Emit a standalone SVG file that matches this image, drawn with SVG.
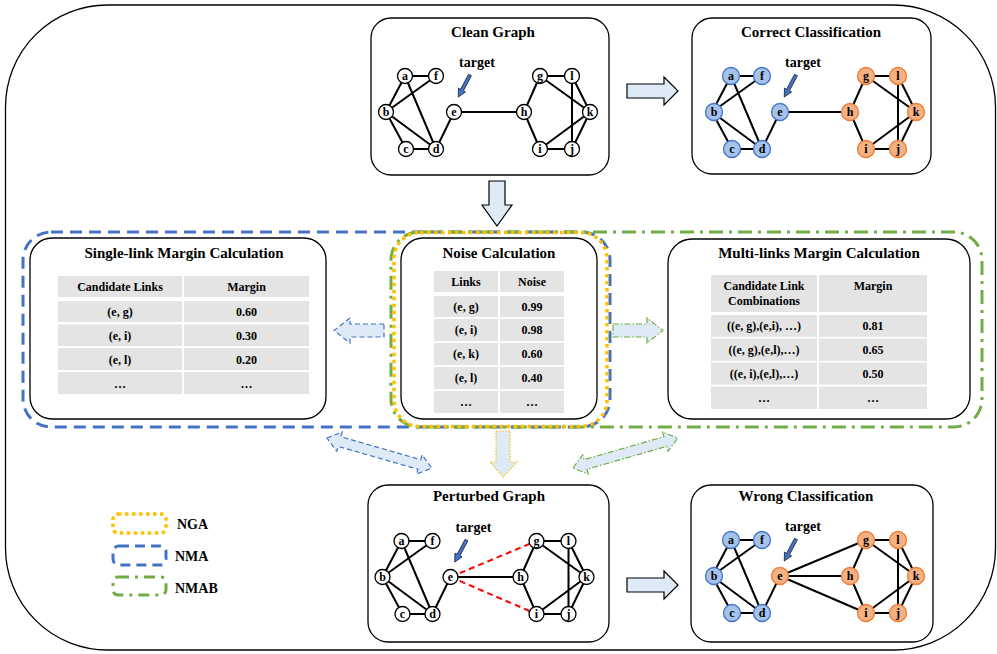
<svg xmlns="http://www.w3.org/2000/svg" xmlns:xlink="http://www.w3.org/1999/xlink" width="997" height="654" viewBox="0 0 997 654">
<style>
.box{fill:#fff;stroke:#000;stroke-width:1.3}
.title{font-family:"Liberation Serif","Times New Roman",serif;font-weight:bold;font-size:15px;text-anchor:middle;fill:#000}
.tt{font-family:"Liberation Serif","Times New Roman",serif;font-weight:bold;font-size:12px;text-anchor:middle;fill:#000}
.lbl{font-family:"Liberation Serif","Times New Roman",serif;font-weight:bold;font-size:12px;text-anchor:middle;fill:#000}
.tgt{font-family:"Liberation Serif","Times New Roman",serif;font-weight:bold;font-size:14px;text-anchor:middle;fill:#000}
.leg{font-family:"Liberation Serif","Times New Roman",serif;font-weight:bold;font-size:14px;fill:#000}
.edge{fill:none;stroke:#000;stroke-width:2}
.red{fill:none;stroke:#FF0000;stroke-width:2;stroke-dasharray:6 4}
.nw{fill:#fff;stroke:#000;stroke-width:1.3}
.nb{fill:#A4C2EA;stroke:#4472C4;stroke-width:1.3}
.no{fill:#F4B183;stroke:#ED7D31;stroke-width:1.3}
.cell{fill:#E4E4E4}
.blk{fill:#DEEBF7;stroke:#000;stroke-width:1.2}
.nma{fill:none;stroke:#4472C4;stroke-width:3;stroke-dasharray:12 7}
.nmab{fill:none;stroke:#70AD47;stroke-width:3;stroke-dasharray:14 6 3 6}
.nga{fill:none;stroke:#FFC000;stroke-width:3.5;stroke-dasharray:3.5 3.5}
.aNma{fill:#DEEBF7;stroke:#4472C4;stroke-width:1.2;stroke-dasharray:5 3}
.aNmab{fill:#DEEBF7;stroke:#70AD47;stroke-width:1.2;stroke-dasharray:6 2 1.5 2}
.aNga{fill:#DEEBF7;stroke:#FFC000;stroke-width:1.2;stroke-dasharray:1.5 1.5}
</style>
<defs>
<path id="gEdges" d="M405,76L436,76M405,76L386,112M405,76L436,149M386,112L436,76M386,112L436,149M386,112L406,149M406,149L436,149M436,149L454,112M454,112L524,112M524,112L540,76M524,112L540,149M540,76L572,76M540,76L590,112M572,76L590,112M572,76L572,149M590,112L572,149M590,112L540,149M540,149L572,149"/>
<polygon id="tArrow" points="-1.6,0 1.6,0 1.6,17 4,17 0,25 -4,17 -1.6,17" fill="#4472C4" stroke="#1F2A44" stroke-width="0.8"/>
</defs>

<rect x="5.5" y="5" width="990" height="645" rx="102" fill="#fff" stroke="#000" stroke-width="1.3"/>

<!-- group boundaries -->
<g id="nma-region"><rect class="nma" x="23" y="232" width="587" height="195" rx="28"/></g>
<g id="nmab-region"><rect class="nmab" x="391" y="232" width="591" height="195" rx="28"/></g>

<!-- Clean Graph -->
<g id="clean-graph">
<rect class="box" x="371" y="18" width="238" height="157" rx="20"/>
<text class="title" x="493" y="37">Clean Graph</text>
<g>
<use href="#gEdges" class="edge"/>
<circle class="nw" cx="405" cy="76" r="7.5"/><text class="lbl" x="405" y="80">a</text>
<circle class="nw" cx="436" cy="76" r="7.5"/><text class="lbl" x="436" y="80">f</text>
<circle class="nw" cx="386" cy="112" r="7.5"/><text class="lbl" x="386" y="116">b</text>
<circle class="nw" cx="454" cy="112" r="7.5"/><text class="lbl" x="454" y="116">e</text>
<circle class="nw" cx="406" cy="149" r="7.5"/><text class="lbl" x="406" y="153">c</text>
<circle class="nw" cx="436" cy="149" r="7.5"/><text class="lbl" x="436" y="153">d</text>
<circle class="nw" cx="524" cy="112" r="7.5"/><text class="lbl" x="524" y="116">h</text>
<circle class="nw" cx="540" cy="76" r="7.5"/><text class="lbl" x="540" y="80">g</text>
<circle class="nw" cx="572" cy="76" r="7.5"/><text class="lbl" x="572" y="80">l</text>
<circle class="nw" cx="590" cy="112" r="7.5"/><text class="lbl" x="590" y="116">k</text>
<circle class="nw" cx="540" cy="149" r="7.5"/><text class="lbl" x="540" y="153">i</text>
<circle class="nw" cx="572" cy="149" r="7.5"/><text class="lbl" x="572" y="153">j</text>
<text class="tgt" x="477" y="67">target</text>
<use href="#tArrow" transform="translate(470,75) rotate(28)"/>
</g>
</g>

<!-- Correct Classification -->
<g id="correct-classification">
<rect class="box" x="692" y="18" width="239" height="156" rx="20"/>
<text class="title" x="811" y="37">Correct Classification</text>
<g transform="translate(326,0)">
<use href="#gEdges" class="edge"/>
<circle class="nb" cx="405" cy="76" r="8.5"/><text class="lbl" x="405" y="80">a</text>
<circle class="nb" cx="436" cy="76" r="8.5"/><text class="lbl" x="436" y="80">f</text>
<circle class="nb" cx="388" cy="112" r="8.5"/><text class="lbl" x="388" y="116">b</text>
<circle class="nb" cx="454" cy="112" r="8.5"/><text class="lbl" x="454" y="116">e</text>
<circle class="nb" cx="406" cy="149" r="8.5"/><text class="lbl" x="406" y="153">c</text>
<circle class="nb" cx="436" cy="149" r="8.5"/><text class="lbl" x="436" y="153">d</text>
<circle class="no" cx="524" cy="112" r="8.5"/><text class="lbl" x="524" y="116">h</text>
<circle class="no" cx="540" cy="76" r="8.5"/><text class="lbl" x="540" y="80">g</text>
<circle class="no" cx="572" cy="76" r="8.5"/><text class="lbl" x="572" y="80">l</text>
<circle class="no" cx="590" cy="112" r="8.5"/><text class="lbl" x="590" y="116">k</text>
<circle class="no" cx="540" cy="149" r="8.5"/><text class="lbl" x="540" y="153">i</text>
<circle class="no" cx="572" cy="149" r="8.5"/><text class="lbl" x="572" y="153">j</text>
<text class="tgt" x="477" y="67">target</text>
<use href="#tArrow" transform="translate(470,75) rotate(28)"/>
</g>
</g>

<!-- Single-link Margin Calculation -->
<g id="single-link">
<rect class="box" x="30" y="238" width="296" height="181" rx="22"/>
<text class="title" x="184" y="258">Single-link Margin Calculation</text>
<rect class="cell" x="58" y="276" width="124" height="21"/><rect class="cell" x="184" y="276" width="125" height="21"/>
<rect class="cell" x="58" y="301" width="124" height="21"/><rect class="cell" x="184" y="301" width="125" height="21"/>
<rect class="cell" x="58" y="324.5" width="124" height="21.5"/><rect class="cell" x="184" y="324.5" width="125" height="21.5"/>
<rect class="cell" x="58" y="348" width="124" height="22"/><rect class="cell" x="184" y="348" width="125" height="22"/>
<rect class="cell" x="58" y="372" width="124" height="22"/><rect class="cell" x="184" y="372" width="125" height="22"/>
<text class="tt" x="120" y="291">Candidate Links</text><text class="tt" x="246.5" y="291">Margin</text>
<text class="tt" x="120" y="316">(e, g)</text><text class="tt" x="246.5" y="316">0.60</text>
<text class="tt" x="120" y="339.5">(e, i)</text><text class="tt" x="246.5" y="339.5">0.30</text>
<text class="tt" x="120" y="363.5">(e, l)</text><text class="tt" x="246.5" y="363.5">0.20</text>
<text class="tt" x="120" y="387.5">…</text><text class="tt" x="246.5" y="387.5">…</text>
</g>

<!-- Noise Calculation -->
<g id="noise-calculation">
<rect class="box" x="401" y="238" width="196" height="181" rx="22"/>
<text class="title" x="499" y="258">Noise Calculation</text>
<rect class="cell" x="434" y="271" width="64" height="21"/><rect class="cell" x="500" y="271" width="64" height="21"/>
<rect class="cell" x="434" y="296" width="64" height="21"/><rect class="cell" x="500" y="296" width="64" height="21"/>
<rect class="cell" x="434" y="319" width="64" height="22"/><rect class="cell" x="500" y="319" width="64" height="22"/>
<rect class="cell" x="434" y="343" width="64" height="22"/><rect class="cell" x="500" y="343" width="64" height="22"/>
<rect class="cell" x="434" y="367" width="64" height="22"/><rect class="cell" x="500" y="367" width="64" height="22"/>
<rect class="cell" x="434" y="391" width="64" height="22"/><rect class="cell" x="500" y="391" width="64" height="22"/>
<text class="tt" x="466" y="286">Links</text><text class="tt" x="532" y="286">Noise</text>
<text class="tt" x="466" y="310.5">(e, g)</text><text class="tt" x="532" y="310.5">0.99</text>
<text class="tt" x="466" y="334">(e, i)</text><text class="tt" x="532" y="334">0.98</text>
<text class="tt" x="466" y="358">(e, k)</text><text class="tt" x="532" y="358">0.60</text>
<text class="tt" x="466" y="382">(e, l)</text><text class="tt" x="532" y="382">0.40</text>
<text class="tt" x="466" y="406">…</text><text class="tt" x="532" y="406">…</text>
</g>
<g id="nga-region"><rect class="nga" x="394" y="232.5" width="213" height="194" rx="26"/></g>

<!-- Multi-links Margin Calculation -->
<g id="multi-links">
<rect class="box" x="668" y="239" width="302" height="180" rx="24"/>
<text class="title" x="819" y="258">Multi-links Margin Calculation</text>
<rect class="cell" x="711" y="275" width="106" height="37"/><rect class="cell" x="819" y="275" width="108" height="37"/>
<rect class="cell" x="711" y="315" width="106" height="22"/><rect class="cell" x="819" y="315" width="108" height="22"/>
<rect class="cell" x="711" y="338.5" width="106" height="22.5"/><rect class="cell" x="819" y="338.5" width="108" height="22.5"/>
<rect class="cell" x="711" y="362.5" width="106" height="22"/><rect class="cell" x="819" y="362.5" width="108" height="22"/>
<rect class="cell" x="711" y="386.5" width="106" height="22.5"/><rect class="cell" x="819" y="386.5" width="108" height="22.5"/>
<text class="tt" x="764" y="290">Candidate Link</text>
<text class="tt" x="764" y="305">Combinations</text>
<text class="tt" x="873" y="290">Margin</text>
<text class="tt" x="764" y="330">((e, g),(e,i), …)</text><text class="tt" x="873" y="330">0.81</text>
<text class="tt" x="764" y="354">((e, g),(e,l),…)</text><text class="tt" x="873" y="354">0.65</text>
<text class="tt" x="764" y="377.5">((e, i),(e,l),…)</text><text class="tt" x="873" y="377.5">0.50</text>
<text class="tt" x="764" y="401.5">…</text><text class="tt" x="873" y="401.5">…</text>
</g>

<!-- Perturbed Graph -->
<g id="perturbed-graph">
<rect class="box" x="368" y="485" width="241" height="157" rx="20"/>
<text class="title" x="489" y="501">Perturbed Graph</text>
<g transform="translate(-3.5,465)">
<use href="#gEdges" class="edge"/>
<path class="red" d="M454,112L540,76M454,112L540,149"/>
<circle class="nw" cx="405" cy="76" r="7.5"/><text class="lbl" x="405" y="80">a</text>
<circle class="nw" cx="436" cy="76" r="7.5"/><text class="lbl" x="436" y="80">f</text>
<circle class="nw" cx="386" cy="112" r="7.5"/><text class="lbl" x="386" y="116">b</text>
<circle class="nw" cx="454" cy="112" r="7.5"/><text class="lbl" x="454" y="116">e</text>
<circle class="nw" cx="406" cy="149" r="7.5"/><text class="lbl" x="406" y="153">c</text>
<circle class="nw" cx="436" cy="149" r="7.5"/><text class="lbl" x="436" y="153">d</text>
<circle class="nw" cx="524" cy="112" r="7.5"/><text class="lbl" x="524" y="116">h</text>
<circle class="nw" cx="540" cy="76" r="7.5"/><text class="lbl" x="540" y="80">g</text>
<circle class="nw" cx="572" cy="76" r="7.5"/><text class="lbl" x="572" y="80">l</text>
<circle class="nw" cx="590" cy="112" r="7.5"/><text class="lbl" x="590" y="116">k</text>
<circle class="nw" cx="540" cy="149" r="7.5"/><text class="lbl" x="540" y="153">i</text>
<circle class="nw" cx="572" cy="149" r="7.5"/><text class="lbl" x="572" y="153">j</text>
<text class="tgt" x="477" y="67">target</text>
<use href="#tArrow" transform="translate(470,75) rotate(28)"/>
</g>
</g>

<!-- Wrong Classification -->
<g id="wrong-classification">
<rect class="box" x="691" y="485" width="242" height="157" rx="20"/>
<text class="title" x="806" y="501">Wrong Classification</text>
<g transform="translate(326,464)">
<use href="#gEdges" class="edge"/>
<path class="edge" d="M454,112L540,76M454,112L540,149"/>
<circle class="nb" cx="405" cy="76" r="8.5"/><text class="lbl" x="405" y="80">a</text>
<circle class="nb" cx="436" cy="76" r="8.5"/><text class="lbl" x="436" y="80">f</text>
<circle class="nb" cx="388" cy="112" r="8.5"/><text class="lbl" x="388" y="116">b</text>
<circle class="no" cx="454" cy="112" r="8.5"/><text class="lbl" x="454" y="116">e</text>
<circle class="nb" cx="406" cy="149" r="8.5"/><text class="lbl" x="406" y="153">c</text>
<circle class="nb" cx="436" cy="149" r="8.5"/><text class="lbl" x="436" y="153">d</text>
<circle class="no" cx="524" cy="112" r="8.5"/><text class="lbl" x="524" y="116">h</text>
<circle class="no" cx="540" cy="76" r="8.5"/><text class="lbl" x="540" y="80">g</text>
<circle class="no" cx="572" cy="76" r="8.5"/><text class="lbl" x="572" y="80">l</text>
<circle class="no" cx="590" cy="112" r="8.5"/><text class="lbl" x="590" y="116">k</text>
<circle class="no" cx="540" cy="149" r="8.5"/><text class="lbl" x="540" y="153">i</text>
<circle class="no" cx="572" cy="149" r="8.5"/><text class="lbl" x="572" y="153">j</text>
<text class="tgt" x="477" y="67">target</text>
<use href="#tArrow" transform="translate(470,75) rotate(28)"/>
</g>
</g>

<!-- Legend -->
<g id="legend">
<rect class="nga" x="113" y="514" width="53" height="19" rx="5"/>
<text class="leg" x="177" y="529">NGA</text>
<rect class="nma" x="113" y="546" width="53" height="19" rx="6" style="stroke-dasharray:10 6"/>
<text class="leg" x="175" y="561">NMA</text>
<rect class="nmab" x="113" y="577" width="53" height="18" rx="5" style="stroke-dasharray:11 6 3 6"/>
<text class="leg" x="175" y="593">NMAB</text>
</g>

<!-- Connectors -->
<g id="connectors">
<polygon class="blk" points="627,84 664,84 664,77 678,91 664,105 664,98 627,98"/>
<polygon class="blk" points="627,578 664,578 664,571 678,585 664,599 664,592 627,592"/>
<polygon class="blk" points="489,181 505,181 505,205 512,205 497,226 482,205 489,205"/>
<polygon class="aNma" points="384,324 350,324 350,318 334,330.5 350,343 350,337 384,337"/>
<polygon class="aNmab" points="613,324 647,324 647,318 663,330.5 647,343 647,337 613,337"/>
<polygon class="aNga" points="496,431 510,431 510,462 517,462 503,477 490,462 496,462"/>
<path class="aNma" transform="translate(327,438) rotate(16)" d="M0,0L13,-10L13,-5L96,-5L96,-10L109,0L96,10L96,5L13,5L13,10Z"/>
<path class="aNmab" transform="translate(573,468) rotate(-16)" d="M0,0L13,-10L13,-5L96,-5L96,-10L109,0L96,10L96,5L13,5L13,10Z"/>
</g>
</svg>
